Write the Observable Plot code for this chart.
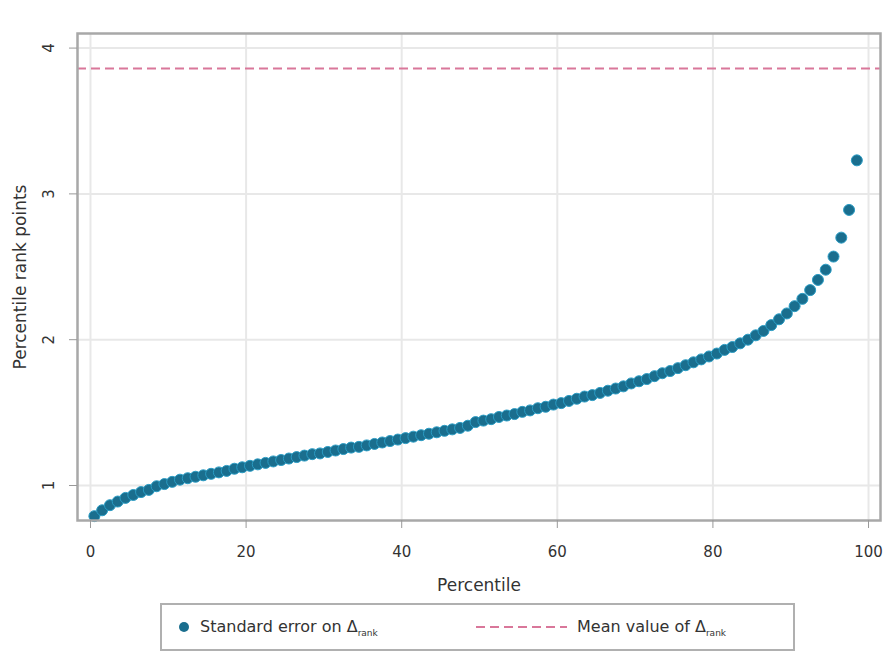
<!DOCTYPE html>
<html>
<head>
<meta charset="utf-8">
<script src="https://cdn.jsdelivr.net/npm/d3@7"></script>
<script src="https://cdn.jsdelivr.net/npm/@observablehq/plot@0.6"></script>
<style>
  body { margin: 0; background: #fff; font-family: "DejaVu Sans", sans-serif; }
  #chart { position: relative; width: 885px; height: 656px; }
  #legend {
    position: absolute; left: 160px; top: 603px; width: 635px; height: 48px;
    border: 2px solid #b0b0b0; box-sizing: border-box; background: #fff;
    font-size: 16px; color: #333;
  }
  #legend .item { position: absolute; top: 12px; white-space: nowrap; }
  #legend sub { font-size: 9px; }
</style>
</head>
<body>
<div id="chart"></div>
<script>
// Percentile positions (one point per percentile)
const percentiles = d3.range(0.5, 99, 1);
// Standard error on Δ_rank
const stdErr = [
  0.79, 0.83, 0.865, 0.89, 0.915, 0.935, 0.955, 0.97, 0.995, 1.01,
  1.025, 1.04, 1.05, 1.06, 1.07, 1.08, 1.09, 1.10, 1.115, 1.125,
  1.135, 1.145, 1.155, 1.165, 1.175, 1.185, 1.195, 1.205, 1.215, 1.22,
  1.23, 1.24, 1.25, 1.26, 1.265, 1.275, 1.285, 1.295, 1.305, 1.315,
  1.325, 1.335, 1.345, 1.355, 1.365, 1.375, 1.385, 1.395, 1.41, 1.435,
  1.445, 1.455, 1.47, 1.48, 1.49, 1.505, 1.515, 1.53, 1.54, 1.555,
  1.565, 1.58, 1.595, 1.61, 1.62, 1.635, 1.65, 1.665, 1.68, 1.70,
  1.715, 1.73, 1.75, 1.77, 1.785, 1.805, 1.825, 1.845, 1.865, 1.885,
  1.905, 1.93, 1.95, 1.975, 2.0, 2.03, 2.06, 2.10, 2.14, 2.18,
  2.23, 2.28, 2.34, 2.41, 2.48, 2.57, 2.70, 2.89, 3.23
];
const meanValue = [3.86];
const xTicks = [0, 20, 40, 60, 80, 100];
const yTicks = [1, 2, 3, 4];

const points = percentiles.map((p, i) => ({p, se: stdErr[i]}));

const plot = Plot.plot({
  width: 885,
  height: 600,
  marginLeft: 77,
  marginRight: 5,
  marginTop: 33,
  marginBottom: 80,
  style: {fontFamily: "DejaVu Sans, sans-serif", fontSize: "15px", color: "#333", background: "#fff"},
  x: {domain: [-1.67, 101.54], ticks: xTicks, label: null},
  y: {domain: [0.76, 4.10], ticks: yTicks, label: null},
  marks: [
    Plot.gridX(xTicks, {stroke: "#e8e8e8", strokeWidth: 2, strokeOpacity: 1}),
    Plot.gridY(yTicks, {stroke: "#e8e8e8", strokeWidth: 2, strokeOpacity: 1}),
    Plot.ruleY(meanValue, {stroke: "#d9779a", strokeWidth: 2, strokeDasharray: "9,5"}),
    Plot.dot(points, {x: "p", y: "se", r: 5.5, fill: "#1a6e8e", stroke: "#2a9cc4", strokeWidth: 1}),
    Plot.frame({stroke: "#a8a8a8", strokeWidth: 2.5}),
    Plot.axisX(xTicks, {tickSize: 8, tickPadding: 18, stroke: "#999", tickFormat: d => String(d), label: "Percentile", labelAnchor: "center", labelArrow: "none", labelOffset: 70, fontSize: 15}),
    Plot.axisY(yTicks, {tickSize: 8, tickPadding: 16, stroke: "#999", tickFormat: d => String(d), tickRotate: -90, label: "Percentile rank points", labelAnchor: "center", labelArrow: "none", labelOffset: 64, fontSize: 15})
  ]
});
// enlarge axis titles
plot.querySelectorAll("g[aria-label='x-axis label'] text, g[aria-label='y-axis label'] text").forEach(t => t.setAttribute("font-size", "17px"));
const chart = document.getElementById("chart");
chart.appendChild(plot);

const legend = document.createElement("div");
legend.id = "legend";
legend.innerHTML = `
  <svg width="20" height="20" style="position:absolute;left:12px;top:12px"><circle cx="10" cy="10" r="5" fill="#1a6e8e"/></svg>
  <span class="item" style="left:38px">Standard error on Δ<sub>rank</sub></span>
  <svg width="95" height="20" style="position:absolute;left:312px;top:12px"><line x1="2" y1="10" x2="93" y2="10" stroke="#d9779a" stroke-width="2" stroke-dasharray="9,5"/></svg>
  <span class="item" style="left:415px">Mean value of Δ<sub>rank</sub></span>`;
chart.appendChild(legend);
</script>
</body>
</html>
